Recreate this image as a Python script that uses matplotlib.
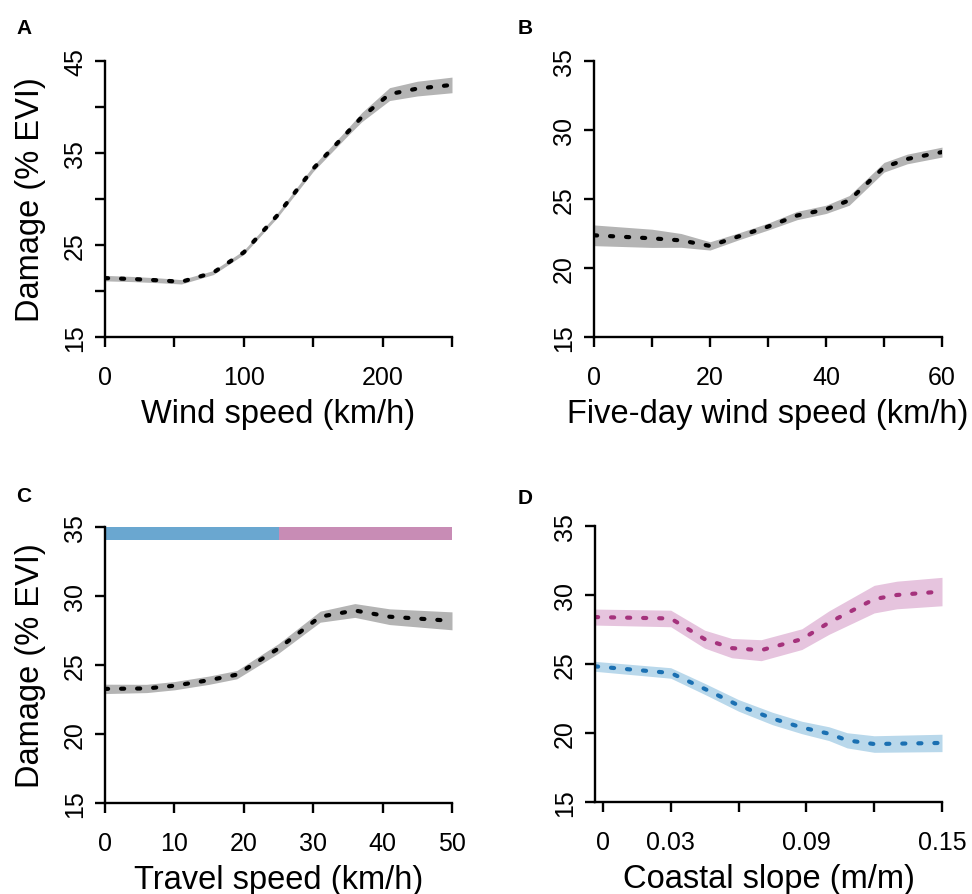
import numpy as np
import matplotlib.pyplot as plt

plt.rcParams['font.family'] = ['Liberation Sans', 'DejaVu Sans']

# panel A - wind speed
wind_x = [0, 20, 40, 55, 78, 100, 124, 150, 175, 185, 205, 225, 250]
wind_y = [21.4, 21.3, 21.15, 21.0, 22.0, 24.2, 28.2, 33.3, 37.3, 38.9, 41.4, 42.0, 42.4]
wind_se = [0.3, 0.28, 0.26, 0.24, 0.22, 0.22, 0.24, 0.3, 0.4, 0.5, 0.7, 0.8, 0.85]

# panel B - five-day wind speed
five_x = [0, 10, 15, 20, 25, 30, 35, 40, 44, 50, 54, 60]
five_y = [22.37, 22.15, 22.0, 21.6, 22.3, 23.0, 23.8, 24.25, 24.9, 27.3, 27.9, 28.4]
five_se = [0.75, 0.66, 0.5, 0.3, 0.25, 0.25, 0.3, 0.3, 0.35, 0.35, 0.35, 0.36]

# panel C - travel speed
travel_x = [0, 6, 10, 15, 19, 25, 31, 36, 41, 50]
travel_y = [23.27, 23.3, 23.5, 23.9, 24.3, 26.2, 28.5, 28.95, 28.5, 28.2]
travel_se = [0.34, 0.3, 0.3, 0.3, 0.3, 0.35, 0.4, 0.5, 0.57, 0.65]
bar_split = 25

# panel D - coastal slope, fast (pink) and slow (blue)
slope_x = [-0.0035, 0.03, 0.045, 0.057, 0.07, 0.088, 0.1, 0.12, 0.13, 0.15]
fast_y = [28.4, 28.3, 26.8, 26.15, 26.0, 26.8, 28.0, 29.7, 30.0, 30.25]
fast_se = [0.58, 0.6, 0.65, 0.7, 0.76, 0.75, 0.85, 1.0, 1.0, 1.03]
slope_x2 = [-0.0035, 0.03, 0.045, 0.06, 0.075, 0.088, 0.1, 0.108, 0.12, 0.15]
slow_y = [24.83, 24.35, 23.2, 22.0, 21.05, 20.4, 19.95, 19.47, 19.2, 19.28]
slow_se = [0.36, 0.38, 0.4, 0.42, 0.45, 0.45, 0.5, 0.55, 0.6, 0.63]

tick_fs = 18
lab_fs = 23.5


def style(ax, xt, xl, yt, yl):
    for s in ['top', 'right']:
        ax.spines[s].set_visible(False)
    ax.spines['left'].set_linewidth(1.7)
    ax.spines['bottom'].set_linewidth(1.7)
    ax.spines['left'].set_bounds(yt[0], yt[-1])
    ax.spines['bottom'].set_bounds(min(ax.get_xlim()[0], xt[0]), xt[-1])
    ax.set_xticks(xt, xl)
    ax.set_yticks(yt, yl)
    ax.tick_params(axis='both', direction='out', length=7, width=1.7, labelsize=tick_fs)
    ax.tick_params(axis='x', pad=13)
    ax.tick_params(axis='y', pad=6)
    for t in ax.get_yticklabels():
        t.set_rotation(90)
        t.set_va('center')


def curve(ax, x, y, se, lc, fc):
    y = np.array(y)
    se = np.array(se)
    ax.fill_between(x, y - se, y + se, color=fc, lw=0)
    ax.plot(x, y, color=lc, lw=3.0, linestyle=(0, (0.75, 3.1)), dash_capstyle='round')


fig = plt.figure(figsize=(9.72, 8.95), dpi=100)
axA = fig.add_axes([105 / 972, 1 - 338 / 895, 347 / 972, 276 / 895])
axB = fig.add_axes([594 / 972, 1 - 338 / 895, 348 / 972, 276 / 895])
axC = fig.add_axes([105 / 972, 1 - 804 / 895, 347 / 972, 276 / 895])
axD = fig.add_axes([595 / 972, 1 - 803 / 895, 347 / 972, 276 / 895])

grey_band = '#b4b4b4'

curve(axA, wind_x, wind_y, wind_se, 'black', grey_band)
axA.set_xlim(0, 250)
axA.set_ylim(15, 45)
style(axA, [0, 50, 100, 150, 200, 250], ['0', '', '100', '', '200', ''],
      [15, 20, 25, 30, 35, 40, 45], ['15', '', '25', '', '35', '', '45'])
axA.set_xlabel('Wind speed (km/h)', fontsize=lab_fs, labelpad=7)
axA.set_ylabel('Damage (% EVI)', fontsize=lab_fs, labelpad=12)

curve(axB, five_x, five_y, five_se, 'black', grey_band)
axB.set_xlim(0, 60)
axB.set_ylim(15, 35)
style(axB, [0, 10, 20, 30, 40, 50, 60], ['0', '', '20', '', '40', '', '60'],
      [15, 20, 25, 30, 35], ['15', '20', '25', '30', '35'])
axB.set_xlabel('Five-day wind speed (km/h)', fontsize=lab_fs, labelpad=7)

curve(axC, travel_x, travel_y, travel_se, 'black', grey_band)
axC.fill_between([0, bar_split], 34.05, 35, color='#6aa7d0', lw=0)
axC.fill_between([bar_split, 50], 34.05, 35, color='#c88cb5', lw=0)
axC.set_xlim(0, 50)
axC.set_ylim(15, 35)
style(axC, [0, 10, 20, 30, 40, 50], ['0', '10', '20', '30', '40', '50'],
      [15, 20, 25, 30, 35], ['15', '20', '25', '30', '35'])
axC.set_xlabel('Travel speed (km/h)', fontsize=lab_fs, labelpad=7)
axC.set_ylabel('Damage (% EVI)', fontsize=lab_fs, labelpad=12)

curve(axD, slope_x, fast_y, fast_se, '#a5327c', '#e6c4de')
curve(axD, slope_x2, slow_y, slow_se, '#1b70b2', '#b9d8eb')
axD.set_xlim(-0.0035, 0.15)
axD.set_ylim(15, 35)
style(axD, [0, 0.03, 0.06, 0.09, 0.12, 0.15], ['0', '0.03', '', '0.09', '', '0.15'],
      [15, 20, 25, 30, 35], ['15', '20', '25', '30', '35'])
axD.set_xlabel('Coastal slope (m/m)', fontsize=lab_fs, labelpad=7)

for lab, (x, y) in zip('ABCD', [(16, 19), (518, 19), (16, 487), (518, 489)]):
    fig.text(x / 972, 1 - y / 895, lab, fontsize=15, fontweight='bold', ha='left', va='top')

fig.savefig('out.png', dpi=100)
